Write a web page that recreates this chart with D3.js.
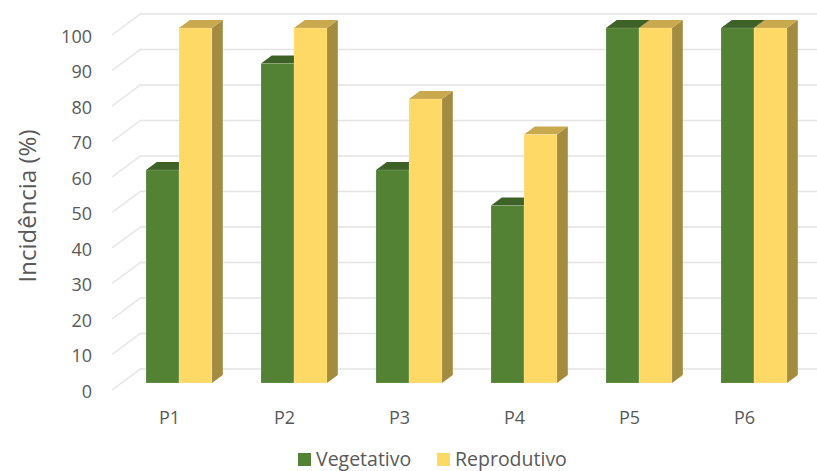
<!DOCTYPE html>
<html>
<head>
<meta charset="utf-8">
<script src="https://cdn.jsdelivr.net/npm/d3@7"></script>
<style>
  html, body { margin: 0; padding: 0; background: #fff; }
  svg { display: block; font-family: "Open Sans", "Noto Sans", sans-serif; }
</style>
</head>
<body>
<svg id="chart" width="817" height="471"></svg>
<script>
// Data
const categories = ["P1", "P2", "P3", "P4", "P5", "P6"];
const seriesNames = ["Vegetativo", "Reprodutivo"];
const vegetativo = [60, 90, 60, 50, 100, 100];
const reprodutivo = [100, 100, 80, 70, 100, 100];
const yTicks = [0, 10, 20, 30, 40, 50, 60, 70, 80, 90, 100];
const yTitle = "Incidência (%)";

const seriesValues = [vegetativo, reprodutivo];
const faceColors = [
  { front: "#548235", top: "#3e6128", side: "#3b5c25" },
  { front: "#ffd966", top: "#c9a94e", side: "#a38b40" }
];

const svg = d3.select("#chart");

// Oblique projection: depth measured in pixels along the vertical, shifted right by k per pixel
const k = 1.35;
const y = d3.scaleLinear().domain([0, 100]).range([383, 28]);
const x0 = d3.scaleBand().domain(categories).range([121.5, 811.5])
  .paddingInner(49 / 115).paddingOuter(49 / 230);
const x1 = d3.scaleBand().domain(seriesNames).range([0, x0.bandwidth()]);

const P = (px, v, depth) => [px + k * depth, y(v) - depth];
const poly = pts => pts.map(p => p.join(",")).join(" ");

const frontDepth = -7, wallDepth = 14, barDepth = 8;
const xStart = x0.range()[0];

// Gridlines: slanted floor-side segment plus horizontal line along the back wall
const grid = svg.append("g").attr("class", "grid");
yTicks.forEach(t => {
  const a = P(xStart, t, frontDepth), b = P(xStart, t, wallDepth), c = P(900, t, wallDepth);
  grid.append("polyline")
    .attr("points", poly([a, b, c]))
    .attr("fill", "none")
    .attr("stroke", "#e4e4e4")
    .attr("stroke-width", 1.4);
});

// 3D columns, left to right, each series in order
const bars = svg.append("g").attr("class", "bars");
categories.forEach((cat, i) => {
  seriesNames.forEach((s, j) => {
    const v = seriesValues[j][i];
    const xa = x0(cat) + x1(s), xb = xa + x1.bandwidth();
    const col = faceColors[j];
    const g = bars.append("g");
    g.append("polygon")
      .attr("points", poly([P(xb, v, 0), P(xb, 0, 0), P(xb, 0, barDepth), P(xb, v, barDepth)]))
      .attr("fill", col.side);
    g.append("polygon")
      .attr("points", poly([P(xa, v, 0), P(xb, v, 0), P(xb, v, barDepth), P(xa, v, barDepth)]))
      .attr("fill", col.top);
    g.append("rect")
      .attr("x", xa).attr("y", y(v))
      .attr("width", xb - xa).attr("height", y(0) - y(v))
      .attr("fill", col.front)
      .attr("stroke", "rgba(255,255,255,0.25)")
      .attr("stroke-width", 0.6);
  });
});

// Value axis labels
const yAxis = d3.axisLeft(y).tickValues(yTicks).tickSize(0).tickPadding(0);
svg.append("g")
  .attr("transform", "translate(92,8.5)")
  .call(yAxis)
  .call(g => g.select(".domain").remove())
  .call(g => g.selectAll("text")
    .attr("fill", "#595959")
    .style("font-size", "18px")
    .style("font-family", "'Open Sans', sans-serif"));

// Category labels on the front floor edge
const xAxis = d3.axisBottom(x0).tickSize(0).tickPadding(0);
svg.append("g")
  .attr("transform", `translate(${k * frontDepth},411)`)
  .call(xAxis)
  .call(g => g.select(".domain").remove())
  .call(g => g.selectAll("text")
    .attr("fill", "#595959")
    .style("font-size", "18px")
    .style("font-family", "'Open Sans', sans-serif"));

// Axis title
svg.append("text")
  .attr("transform", "translate(26,206) rotate(-90)")
  .attr("text-anchor", "middle")
  .attr("dominant-baseline", "central")
  .attr("fill", "#595959")
  .style("font-size", "24px")
  .text(yTitle);

// Legend
const legendX = [298, 437];
const legend = svg.append("g").attr("class", "legend");
seriesNames.forEach((s, j) => {
  legend.append("rect")
    .attr("x", legendX[j]).attr("y", 453)
    .attr("width", 13).attr("height", 13)
    .attr("fill", faceColors[j].front);
  legend.append("text")
    .attr("x", legendX[j] + 18).attr("y", 466)
    .attr("fill", "#595959")
    .style("font-size", "19.5px")
    .text(s);
});
</script>
</body>
</html>
